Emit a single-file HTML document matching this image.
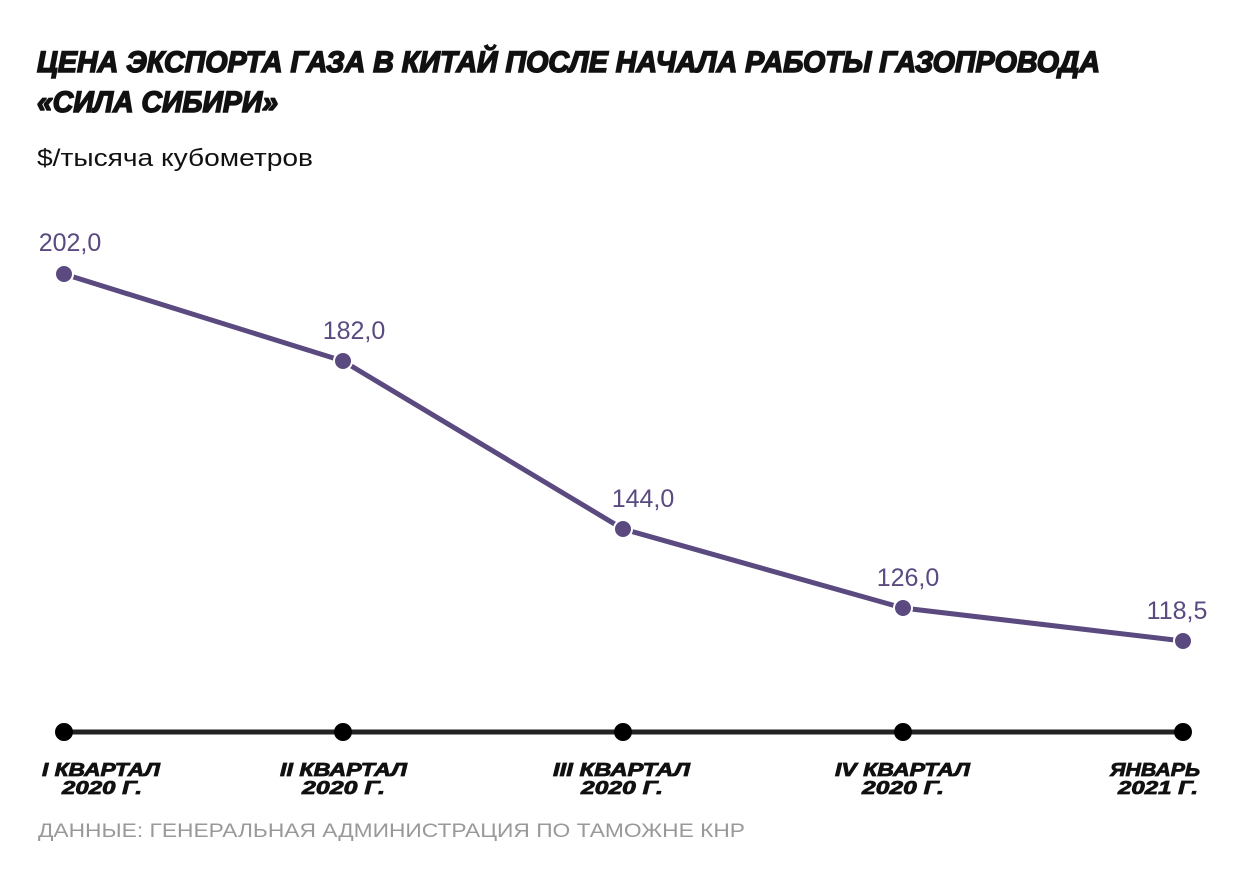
<!DOCTYPE html>
<html><head><meta charset="utf-8"><style>
body{margin:0;background:#fff}
svg{display:block}
</style></head><body>
<svg width="1241" height="886" viewBox="0 0 1241 886" xmlns="http://www.w3.org/2000/svg" font-family="Liberation Sans, sans-serif">
<rect width="1241" height="886" fill="#fff"/>
<g stroke="#111" stroke-width="1.6" fill="#111" font-size="30" font-weight="bold" font-style="italic">
<text x="37" y="72" textLength="1063" lengthAdjust="spacingAndGlyphs">ЦЕНА ЭКСПОРТА ГАЗА В КИТАЙ ПОСЛЕ НАЧАЛА РАБОТЫ ГАЗОПРОВОДА</text>
<text x="37" y="112" textLength="241" lengthAdjust="spacingAndGlyphs">«СИЛА СИБИРИ»</text>
</g>
<text x="37" y="166" font-size="24" fill="#111" textLength="276" lengthAdjust="spacingAndGlyphs">$/тысяча кубометров</text>
<line x1="64" y1="732" x2="1183" y2="732" stroke="#222" stroke-width="5"/>
<g fill="#000">
<circle cx="64" cy="732" r="9"/><circle cx="343" cy="732" r="9"/><circle cx="623" cy="732" r="9"/><circle cx="903" cy="732" r="9"/><circle cx="1183" cy="732" r="9"/>
</g>
<polyline points="64,274 343,361 623,529 903,608 1183,641" fill="none" stroke="#5a4a80" stroke-width="5"/>
<g fill="#5a4a80" stroke="#fff" stroke-width="2">
<circle cx="64" cy="274" r="9"/><circle cx="343" cy="361" r="9"/><circle cx="623" cy="529" r="9"/><circle cx="903" cy="608" r="9"/><circle cx="1183" cy="641" r="9"/>
</g>
<g fill="#5a4a80" font-size="25" text-anchor="middle">
<text x="70" y="251">202,0</text>
<text x="354" y="339">182,0</text>
<text x="643" y="507">144,0</text>
<text x="908" y="586">126,0</text>
<text x="1177" y="619">118,5</text>
</g>
<g font-size="18" font-weight="bold" font-style="italic" fill="#111" stroke="#111" stroke-width="0.8" lengthAdjust="spacingAndGlyphs">
<text x="42" y="776" textLength="118" lengthAdjust="spacingAndGlyphs">I КВАРТАЛ</text><text x="62" y="794" textLength="80" lengthAdjust="spacingAndGlyphs">2020 Г.</text>
<text x="280" y="776" textLength="127" lengthAdjust="spacingAndGlyphs">II КВАРТАЛ</text><text x="302" y="794" textLength="83" lengthAdjust="spacingAndGlyphs">2020 Г.</text>
<text x="553" y="776" textLength="137" lengthAdjust="spacingAndGlyphs">III КВАРТАЛ</text><text x="581" y="794" textLength="82" lengthAdjust="spacingAndGlyphs">2020 Г.</text>
<text x="835" y="776" textLength="135" lengthAdjust="spacingAndGlyphs">IV КВАРТАЛ</text><text x="862" y="794" textLength="82" lengthAdjust="spacingAndGlyphs">2020 Г.</text>
<text x="1110" y="776" textLength="90" lengthAdjust="spacingAndGlyphs">ЯНВАРЬ</text><text x="1118" y="794" textLength="80" lengthAdjust="spacingAndGlyphs">2021 Г.</text>
</g>
<text x="38" y="837" font-size="19" fill="#999" textLength="707" lengthAdjust="spacingAndGlyphs">ДАННЫЕ: ГЕНЕРАЛЬНАЯ АДМИНИСТРАЦИЯ ПО ТАМОЖНЕ КНР</text>
</svg>
</body></html>
